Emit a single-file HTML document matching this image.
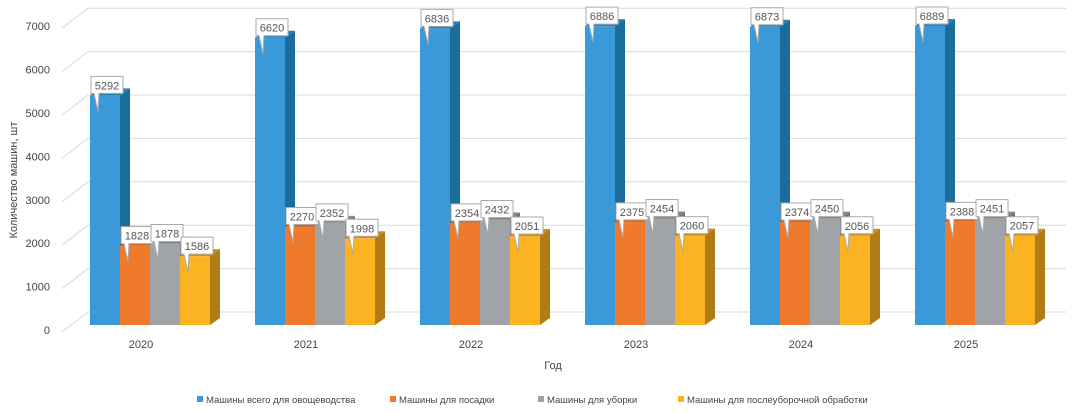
<!DOCTYPE html>
<html><head><meta charset="utf-8">
<style>
body{margin:0;background:#fff;}
svg{display:block;font-family:"Liberation Sans",sans-serif;}
</style></head>
<body>
<svg id="chart" width="1078" height="414" viewBox="0 0 1078 414">
<g id="grid"></g>
<g id="yticks"></g>
<g id="bars"></g>
<g id="labels"></g>
<g id="xticks"></g>
<text x="17" y="180" transform="rotate(-90 17 180)" text-anchor="middle" font-size="11" fill="#444">Количество машин, шт</text>
<text x="553" y="369" text-anchor="middle" font-size="11" fill="#444">Год</text>
<g id="legend"></g>
</svg>
<script>
const categories = ["2020","2021","2022","2023","2024","2025"];
const seriesNames = ["Машины всего для овощеводства","Машины для посадки","Машины для уборки","Машины для послеуборочной обработки"];
const totalValues = [5292,6620,6836,6886,6873,6889];
const plantingValues = [1828,2270,2354,2375,2374,2388];
const harvestValues = [1878,2352,2432,2454,2450,2451];
const postHarvestValues = [1586,1998,2051,2060,2056,2057];
const yTicks = [0,1000,2000,3000,4000,5000,6000,7000];

const series=[totalValues,plantingValues,harvestValues,postHarvestValues];
const front=["#3a9ad9","#f07a2c","#a0a4a8","#fbb321"];
const side=["#1b6e9c","#b35a1f","#70757a","#b07c16"];
const topc=["#2a7fb5","#c96523","#83888c","#c88f19"];
const NS="http://www.w3.org/2000/svg";
function el(tag,attrs,parent){const e=document.createElementNS(NS,tag);for(const k in attrs)e.setAttribute(k,attrs[k]);parent.appendChild(e);return e;}
const y0=325, k=0.0434;
function y(v){return y0-v*k;}
function gx(i){return 90+i*165;}
const bw=30, dx=10, dy=7;

const grid=document.getElementById('grid'), yt=document.getElementById('yticks');
yTicks.forEach(v=>{
  const yy=y(v)-13;
  const l=el('line',{x1:88,y1:yy,x2:1066,y2:yy,stroke:"#d9d9d9","stroke-width":1},grid);
  
  
  const d=el('line',{x1:62,y1:yy+20,x2:88,y2:yy,stroke:"#d9d9d9","stroke-width":1},grid);
  
  
  const t=el('text',{x:50,y:y(v)+9,"text-anchor":"end","font-size":11,fill:"#444"},yt);
  t.textContent=v;
  
  
});
const bars=document.getElementById('bars'), labs=document.getElementById('labels'), xt=document.getElementById('xticks');
categories.forEach((c,i)=>{
  const t=el('text',{x:gx(i)+51,y:348,"text-anchor":"middle","font-size":11,fill:"#444"},xt);
  t.textContent=c;
  
  
  series.forEach((s,j)=>{
    const x=gx(i)+j*bw, yy=y(s[i]);
    const g=el('g',{},bars);
    
    
    el('polygon',{points:`${x+bw},${yy} ${x+bw+dx},${yy-dy} ${x+bw+dx},${y0-dy} ${x+bw},${y0}`,fill:side[j]},g);
    el('polygon',{points:`${x},${yy} ${x+dx},${yy-dy} ${x+bw+dx},${yy-dy} ${x+bw},${yy}`,fill:topc[j]},g);
    el('rect',{x:x,y:yy,width:bw,height:y0-yy,fill:front[j]},g);
  });
  series.forEach((s,j)=>{
    const x=gx(i)+j*bw, yy=y(s[i]);
    const g=el('g',{},labs);
    
    
    const bx=x+1, by=yy-19;
    el('path',{d:`M${bx},${by} h32 v17 h-18 l-6,0 l-1,18 l-4,-18 h-3 z`,fill:"#fff",stroke:"#aaa","stroke-width":1},g);
    const t=el('text',{x:bx+16,y:by+13,"text-anchor":"middle","font-size":11,fill:"#555"},g);
    t.textContent=s[i];
  });
});
const lg=document.getElementById('legend');
const lx=[197,390,538,678];
seriesNames.forEach((n,j)=>{
  const g=el('g',{},lg);
  
  
  el('rect',{x:lx[j],y:396,width:6,height:6,fill:front[j]},g);
  const t=el('text',{x:lx[j]+9,y:403,"font-size":9.5,fill:"#444"},g);
  t.textContent=n;
});
</script>
</body></html>
